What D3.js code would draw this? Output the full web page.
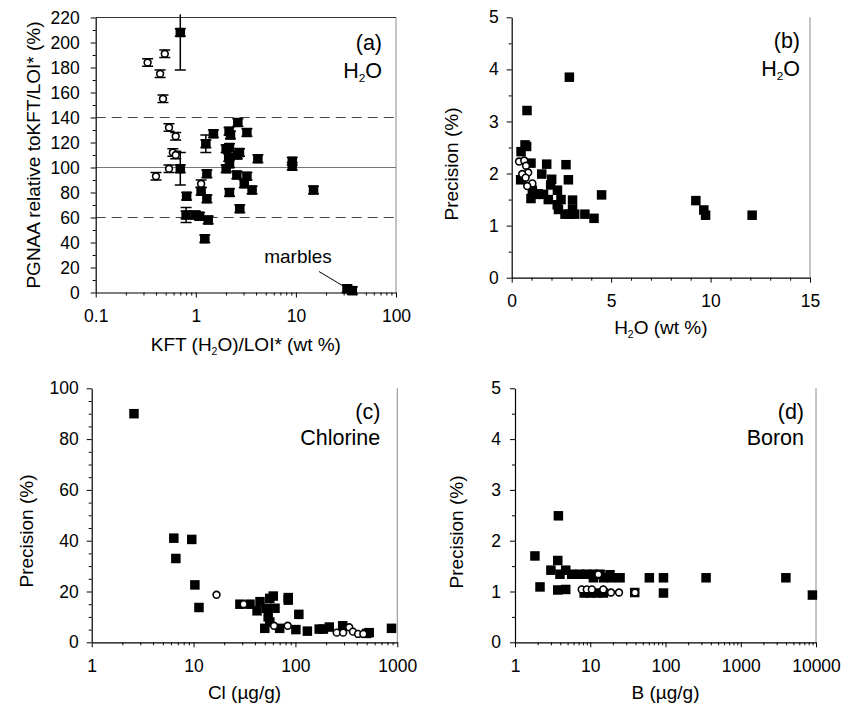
<!DOCTYPE html>
<html>
<head>
<meta charset="utf-8">
<script src="https://cdn.jsdelivr.net/npm/d3@7"></script>
<style>
  body { margin: 0; background: #fff; }
  svg text { font-family: "Liberation Sans", Arial, Helvetica, sans-serif; fill: #000; }
</style>
</head>
<body>
<svg id="chart" width="847" height="708"></svg>
<script>
// ---- panel (a): PGNAA relative to KFT/LOI* vs KFT (H2O)/LOI*
const aXTicks = [0.1, 1, 10, 100];
const aYTicks = [0, 20, 40, 60, 80, 100, 120, 140, 160, 180, 200, 220];
const aFilled = [
  [0.70, 208], [0.70, 99], [0.81, 77], [0.80, 62], [0.99, 62], [1.09, 61],
  [1.33, 58], [1.23, 43], [1.13, 81], [1.29, 75], [1.29, 95], [1.26, 119],
  [1.50, 127], [2.01, 115], [2.17, 116], [2.13, 108], [2.73, 112], [2.60, 110],
  [2.01, 99], [2.17, 103], [2.57, 94], [3.24, 93], [3.05, 87], [3.65, 82],
  [2.17, 80], [2.75, 67], [2.15, 129], [2.22, 126], [2.63, 136], [3.24, 128],
  [4.17, 107], [9.2, 101], [9.2, 105], [15.0, 82], [32.4, 3], [36.6, 1.5]
];
const aOpen = [
  [0.33, 184], [0.49, 191], [0.44, 175], [0.47, 155], [0.54, 132], [0.63, 125],
  [0.59, 112], [0.63, 110], [0.54, 99], [0.40, 93], [1.13, 87]
];
// x, y, +/- error of the large error bars
const aErrBars = [[0.70, 208, 30], [0.70, 99, 13], [0.80, 62, 6], [1.26, 119, 7]];
const aSmallErr = 3;
const aRefDashed = [60, 140];
const aRefSolid = [100];

// ---- panel (b): precision vs H2O
const bXTicks = [0, 5, 10, 15];
const bYTicks = [0, 1, 2, 3, 4, 5];
const bFilled = [
  [2.9, 3.85], [0.77, 3.21], [0.67, 2.55], [0.75, 2.52], [0.47, 2.42], [0.97, 2.2],
  [1.76, 2.18], [2.73, 2.17], [0.45, 1.88], [1.51, 1.99], [2.01, 1.89], [2.85, 1.88],
  [1.96, 1.78], [2.3, 1.68], [1.04, 1.68], [1.34, 1.61], [0.97, 1.52], [1.84, 1.5],
  [2.48, 1.5], [3.06, 1.49], [4.52, 1.59], [2.29, 1.4], [2.35, 1.31], [3.06, 1.31],
  [2.68, 1.22], [2.9, 1.22], [3.17, 1.22], [3.68, 1.22], [4.14, 1.14], [9.26, 1.48],
  [9.66, 1.3], [9.75, 1.2], [12.09, 1.2], [1.2, 1.6], [1.6, 1.6]
];
const bOpen = [
  [0.37, 2.23], [0.63, 2.25], [0.72, 2.15], [0.83, 2.02], [0.53, 1.99], [0.7, 1.92],
  [1.04, 1.81], [0.78, 1.76]
];

// ---- panel (c): precision vs Cl
const cXTicks = [1, 10, 100, 1000];
const cYTicks = [0, 20, 40, 60, 80, 100];
const cFilled = [
  [2.6, 90], [6.4, 41], [6.7, 33], [9.6, 40.5], [10.3, 22.6], [11.3, 13.7],
  [28.5, 15], [35.8, 15], [44.9, 16], [42, 12.4], [56, 17.3], [60.6, 18.2],
  [52, 13.4], [63, 13.4], [54, 10], [56, 8], [50, 5.5], [70, 5.5],
  [85, 17.6], [85, 16.6], [108, 11], [101, 5], [131, 4.4], [171, 5.2],
  [188, 5.2], [215, 6], [291, 6.5], [500, 3.5], [530, 3.8], [877, 5.5]
];
const cOpen = [
  [16.8, 18.7], [31, 15], [61.7, 6.5], [84, 6.5], [254, 3.8], [294, 3.8],
  [337, 5.9], [367, 4.2], [412, 3.3], [464, 3.3]
];

// ---- panel (d): precision vs B
const dXTicks = [1, 10, 100, 1000, 10000];
const dYTicks = [0, 1, 2, 3, 4, 5];
const dFilled = [
  [1.84, 1.7], [2.15, 1.09], [3.77, 2.49], [3.7, 1.61], [3.0, 1.42], [3.7, 1.03],
  [4.72, 1.04], [4.72, 1.42], [3.96, 1.34], [5.66, 1.34], [7.3, 1.34], [9.0, 1.34],
  [11, 1.34], [13.5, 1.34], [11, 1.27], [15, 1.27], [18.3, 1.33], [19.2, 1.27],
  [24.9, 1.27], [61, 1.27], [94, 1.27], [94, 0.97], [346, 1.27], [3980, 1.27],
  [8960, 0.93], [8.3, 0.97], [10, 0.97], [12.3, 0.97], [15, 0.97], [39, 0.98]
];
const dOpen = [
  [7.7, 1.04], [9.0, 1.04], [10.5, 1.04], [14.9, 1.04], [18.9, 0.98], [24.1, 0.98],
  [39.3, 0.98], [12.8, 1.34]
];

const svg = d3.select("#chart");
const SQ = 9.5;    // square marker size
const CR = 3.4;    // open circle radius

// adds "H2O" with a small subscript 2 to a text selection
function h2o(t, before, after, size) {
  t.append("tspan").text(before + "H");
  t.append("tspan").text("2").attr("font-size", size * 0.55).attr("dy", size * 0.2);
  t.append("tspan").text("O" + after).attr("dy", -size * 0.2);
}

function logMinor(domain) {
  const out = [];
  for (let e = Math.round(Math.log10(domain[0])); e < Math.round(Math.log10(domain[1])); e++) {
    for (let k = 2; k <= 9; k++) out.push(k * Math.pow(10, e));
  }
  return out;
}

function drawPanel(p) {
  const g = svg.append("g");
  const x = (p.log ? d3.scaleLog() : d3.scaleLinear())
    .domain(p.xDomain).range([p.left, p.right]);
  const y = d3.scaleLinear().domain(p.yDomain).range([p.bottom, p.top]);

  // frame (right, optional top)
  g.append("line").attr("x1", p.right).attr("x2", p.right)
    .attr("y1", p.top).attr("y2", p.bottom)
    .attr("stroke", "#8a8a8a").attr("stroke-width", 1);
  if (p.topLine) {
    g.append("line").attr("x1", p.left).attr("x2", p.right)
      .attr("y1", p.top).attr("y2", p.top)
      .attr("stroke", "#333").attr("stroke-width", 1);
  }

  // reference lines
  (p.dashed || []).forEach(v => {
    g.append("line").attr("x1", p.left).attr("x2", p.right)
      .attr("y1", y(v)).attr("y2", y(v))
      .attr("stroke", "#444").attr("stroke-width", 1.1).attr("stroke-dasharray", "10,6");
  });
  (p.solid || []).forEach(v => {
    g.append("line").attr("x1", p.left).attr("x2", p.right)
      .attr("y1", y(v)).attr("y2", y(v))
      .attr("stroke", "#777").attr("stroke-width", 1.2);
  });

  // minor ticks
  g.append("g").attr("transform", `translate(0,${p.bottom})`)
    .call(d3.axisBottom(x).tickValues(p.xMinor).tickSize(3).tickFormat(""))
    .call(a => a.select(".domain").remove());
  g.append("g").attr("transform", `translate(${p.left},0)`)
    .call(d3.axisLeft(y).tickValues(p.yMinor).tickSize(3).tickFormat(""))
    .call(a => a.select(".domain").remove());

  // major axes
  const xa = g.append("g").attr("transform", `translate(0,${p.bottom})`)
    .call(d3.axisBottom(x).tickValues(p.xTicks).tickSize(5).tickSizeOuter(0)
      .tickPadding(12).tickFormat(d => String(d)));
  const ya = g.append("g").attr("transform", `translate(${p.left},0)`)
    .call(d3.axisLeft(y).tickValues(p.yTicks).tickSize(5).tickSizeOuter(0)
      .tickPadding(p.yPad).tickFormat(d => String(d)));
  [xa, ya].forEach(a => {
    a.selectAll("text").attr("font-size", 17.5).attr("fill", "#000")
      .style("font-family", '"Liberation Sans", Arial, sans-serif');
    a.selectAll("line").attr("stroke", "#000");
    a.select(".domain").attr("stroke", "#000").attr("stroke-width", 1.2);
  });
  g.selectAll("g.tick line").attr("stroke", "#000");

  // small error bars
  if (p.smallErr) {
    p.filled.concat(p.open).forEach(d => {
      const cx = x(d[0]);
      g.append("line").attr("x1", cx).attr("x2", cx)
        .attr("y1", y(d[1] - p.smallErr)).attr("y2", y(d[1] + p.smallErr))
        .attr("stroke", "#000").attr("stroke-width", 1.5);
      [-1, 1].forEach(s => g.append("line")
        .attr("x1", cx - 5.5).attr("x2", cx + 5.5)
        .attr("y1", y(d[1] + s * p.smallErr)).attr("y2", y(d[1] + s * p.smallErr))
        .attr("stroke", "#000").attr("stroke-width", 1.5));
    });
  }
  // large error bars
  (p.errBars || []).forEach(d => {
    const cx = x(d[0]);
    const hiV = Math.min(d[1] + d[2], p.yDomain[1] + 2.5);
    g.append("line").attr("x1", cx).attr("x2", cx)
      .attr("y1", y(d[1] - d[2])).attr("y2", y(hiV))
      .attr("stroke", "#000").attr("stroke-width", 1.5);
    g.append("line").attr("x1", cx - 5.5).attr("x2", cx + 5.5)
      .attr("y1", y(d[1] - d[2])).attr("y2", y(d[1] - d[2]))
      .attr("stroke", "#000").attr("stroke-width", 1.5);
    if (d[1] + d[2] <= p.yDomain[1]) {
      g.append("line").attr("x1", cx - 5.5).attr("x2", cx + 5.5)
        .attr("y1", y(d[1] + d[2])).attr("y2", y(d[1] + d[2]))
        .attr("stroke", "#000").attr("stroke-width", 1.5);
    }
  });

  // filled squares
  g.selectAll(".sq").data(p.filled).enter().append("rect")
    .attr("class", "sq")
    .attr("x", d => x(d[0]) - SQ / 2).attr("y", d => y(d[1]) - SQ / 2)
    .attr("width", SQ).attr("height", SQ)
    .attr("fill", "#000");

  // open circles
  g.selectAll(".oc").data(p.open).enter().append("circle")
    .attr("class", "oc")
    .attr("cx", d => x(d[0])).attr("cy", d => y(d[1])).attr("r", CR)
    .attr("fill", "#fff").attr("stroke", "#000").attr("stroke-width", 1.6);

  // axis titles
  const xt = g.append("text").attr("x", (p.left + p.right) / 2).attr("y", p.xLabelY)
    .attr("text-anchor", "middle").attr("font-size", 19);
  p.xLabel(xt);
  const yt = g.append("text")
    .attr("transform", `translate(${p.yLabelX},${p.yLabelY}) rotate(-90)`)
    .attr("text-anchor", "middle").attr("font-size", 19);
  p.yLabel(yt);

  // panel annotation
  g.append("text").attr("x", p.right - p.annRight).attr("y", p.annY1)
    .attr("text-anchor", "end").attr("font-size", 21.5).text(p.tag);
  const an = g.append("text").attr("x", p.right - p.annRight).attr("y", p.annY2)
    .attr("text-anchor", "end").attr("font-size", 21.5);
  p.name(an);

  return { g, x, y };
}

const pa = drawPanel({
  left: 95.7, right: 396, top: 17.5, bottom: 292.5, log: true, topLine: true,
  xDomain: [0.1, 100], yDomain: [0, 220],
  xTicks: aXTicks, yTicks: aYTicks,
  xMinor: logMinor([0.1, 100]), yMinor: d3.range(10, 220, 20),
  yPad: 11,
  filled: aFilled, open: aOpen, errBars: aErrBars, smallErr: aSmallErr,
  dashed: aRefDashed, solid: aRefSolid,
  xLabelY: 351, xLabel: t => h2o(t, "KFT (", ")/LOI* (wt %)", 19),
  yLabelX: 40, yLabelY: 155, yLabel: t => t.text("PGNAA relative toKFT/LOI* (%)"),
  tag: "(a)", annRight: 14, annY1: 50, annY2: 78, name: t => h2o(t, "", "", 21.5)
});
// marbles note
pa.g.append("text").attr("x", 298).attr("y", 263).attr("text-anchor", "middle")
  .attr("font-size", 19).text("marbles");
pa.g.append("line").attr("x1", 319).attr("y1", 271.5).attr("x2", 341.5).attr("y2", 285)
  .attr("stroke", "#000").attr("stroke-width", 1);

drawPanel({
  left: 511.7, right: 810, top: 17.3, bottom: 277.7, log: false,
  xDomain: [0, 15], yDomain: [0, 5],
  xTicks: bXTicks, yTicks: bYTicks,
  xMinor: d3.range(1, 15).filter(v => v % 5 !== 0), yMinor: d3.range(0.5, 5, 1),
  yPad: 8,
  filled: bFilled, open: bOpen,
  xLabelY: 334, xLabel: t => h2o(t, "", " (wt %)", 19),
  yLabelX: 458, yLabelY: 164, yLabel: t => t.text("Precision (%)"),
  tag: "(b)", annRight: 10, annY1: 48, annY2: 76, name: t => h2o(t, "", "", 21.5)
});

drawPanel({
  left: 91.7, right: 397.3, top: 388.3, bottom: 642.3, log: true,
  xDomain: [1, 1000], yDomain: [0, 100],
  xTicks: cXTicks, yTicks: cYTicks,
  xMinor: logMinor([1, 1000]), yMinor: d3.range(5, 100, 5).filter(v => v % 20 !== 0),
  yPad: 8,
  filled: cFilled, open: cOpen,
  xLabelY: 699, xLabel: t => t.text("Cl (\u00b5g/g)"),
  yLabelX: 33, yLabelY: 531, yLabel: t => t.text("Precision (%)"),
  tag: "(c)", annRight: 17, annY1: 419, annY2: 445, name: t => t.text("Chlorine")
});

drawPanel({
  left: 515, right: 816, top: 388.3, bottom: 642.3, log: true,
  xDomain: [1, 10000], yDomain: [0, 5],
  xTicks: dXTicks, yTicks: dYTicks,
  xMinor: logMinor([1, 10000]), yMinor: d3.range(0.5, 5, 1),
  yPad: 9,
  filled: dFilled, open: dOpen,
  xLabelY: 699, xLabel: t => t.text("B (\u00b5g/g)"),
  yLabelX: 463, yLabelY: 532, yLabel: t => t.text("Precision (%)"),
  tag: "(d)", annRight: 12, annY1: 419, annY2: 445, name: t => t.text("Boron")
});
</script>
</body>
</html>
